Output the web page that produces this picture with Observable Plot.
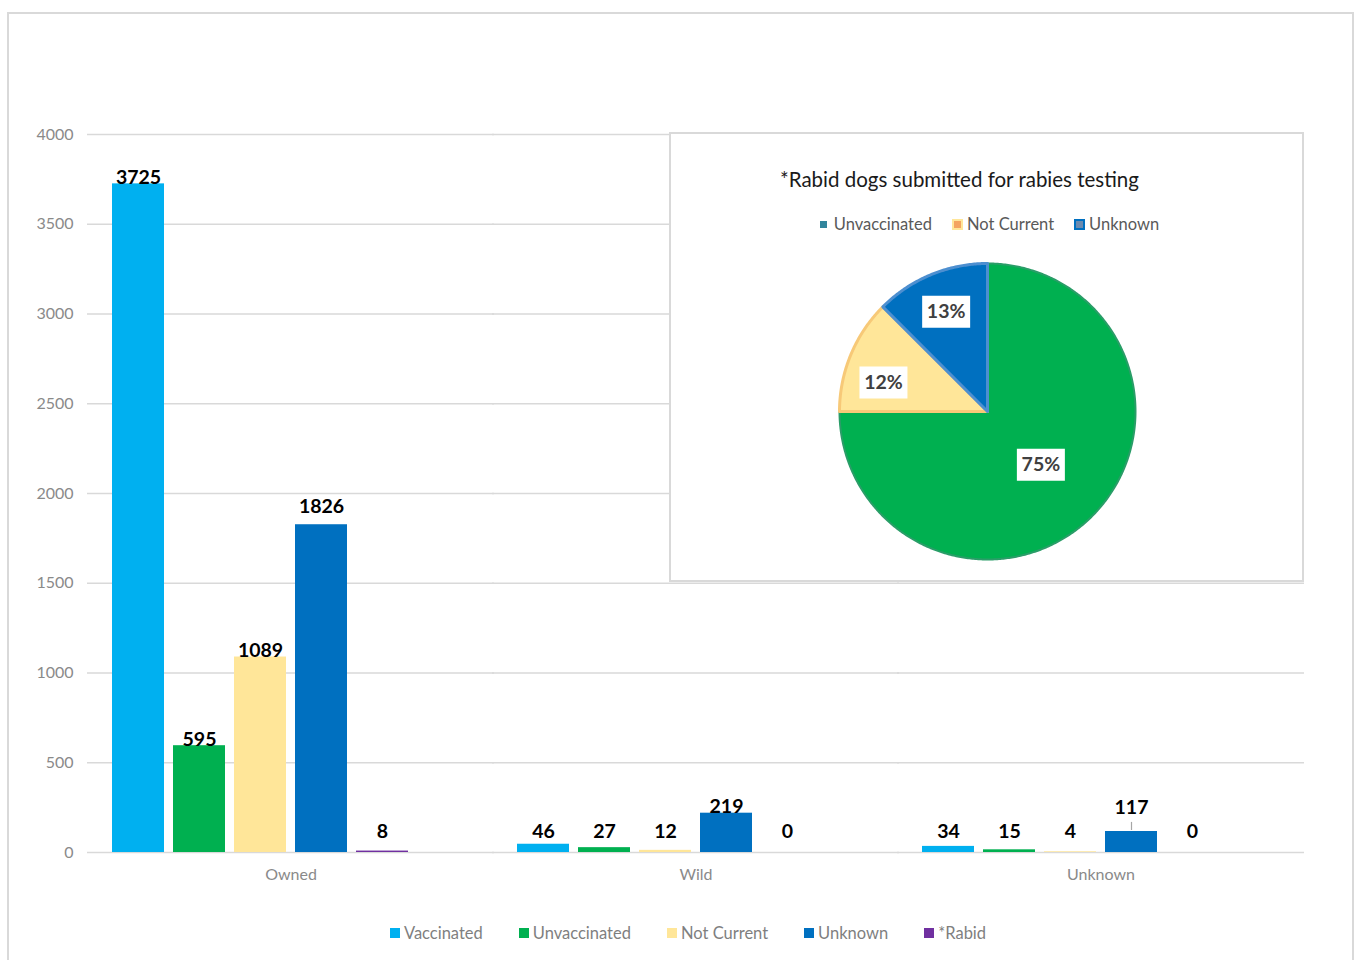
<!DOCTYPE html>
<html>
<head>
<meta charset="utf-8">
<script src="https://cdn.jsdelivr.net/npm/d3@7"></script>
<script src="https://cdn.jsdelivr.net/npm/@observablehq/plot@0.6"></script>
<style>
  html, body { margin: 0; padding: 0; background: #fff; }
  #wrap { position: relative; width: 1357px; height: 960px; overflow: hidden; font-family: Lato, "Noto Sans", sans-serif; }
  #frame { position: absolute; left: 7px; top: 12px; width: 1347px; height: 980px; border: 2px solid #d9d9d9; box-sizing: border-box; }
  #main { position: absolute; left: 0; top: 0; }
  #inset { position: absolute; left: 669px; top: 132px; width: 635px; height: 450px; border: 2px solid #d9d9d9; box-sizing: border-box; background: #fff; }
  #insetTitle { position: absolute; left: 0; width: 100%; top: 33px; text-align: center; font-size: 20.5px; color: #1a1a1a; padding-right: 54px; box-sizing: border-box; }
  #insetLegend { position: absolute; left: 0; width: 100%; top: 80px; display: flex; justify-content: center; gap: 20px; font-size: 16.5px; color: #595959; padding-left: 6px; box-sizing: border-box; }
  #insetLegend .it, #legend .it { display: flex; align-items: center; }
  #pie { position: absolute; left: 156px; top: 117px; }
  #legend { position: absolute; left: 0; top: 923px; width: 1376px; display: flex; justify-content: center; gap: 36px; font-size: 16.5px; color: #7f7f7f; }
  .sw { display: inline-block; width: 10px; height: 10px; margin-right: 4px; box-sizing: border-box; }
</style>
</head>
<body>
<div id="wrap">
  <div id="frame"></div>
  <div id="main"></div>
  <div id="inset">
    <div id="insetTitle"></div>
    <div id="insetLegend"></div>
    <div id="pie"></div>
  </div>
  <div id="legend"></div>
</div>
<script>
// ---- Bar chart data ----
const categories = ["Owned", "Wild", "Unknown"];
const series = ["Vaccinated", "Unvaccinated", "Not Current", "Unknown", "*Rabid"];
const seriesColors = ["#00b0f0", "#00b050", "#ffe699", "#0070c0", "#7030a0"];
const vaccinated = [3725, 46, 34];
const unvaccinated = [595, 27, 15];
const notCurrent = [1089, 12, 4];
const unknown = [1826, 219, 117];
const rabid = [8, 0, 0];
const yTicks = [0, 500, 1000, 1500, 2000, 2500, 3000, 3500, 4000];

// ---- Pie data ----
const pieTitle = "*Rabid dogs submitted for rabies testing";
const pieCategories = ["Unvaccinated", "Not Current", "Unknown"];
const pieCounts = [6, 1, 1];
const pieLabels = ["75%", "12%", "13%"];
const pieFill = ["#00b050", "#ffe699", "#0070c0"];
const pieStroke = ["#2a9d68", "#f7c978", "#4d8fd0"];
const pieLegendFill = ["#31859c", "#f4a460", "#6b8bb0"];
const pieLegendBorder = ["#31859c", "#ffe699", "#0070c0"];

const valuesBySeries = [vaccinated, unvaccinated, notCurrent, unknown, rabid];
const rows = categories.flatMap((c, i) =>
  series.map((s, j) => ({category: c, series: s, value: valuesBySeries[j][i]})));
const slots = [...series, "spacer"];
const labelFloor = 78;
// labels that were dragged upward in the original chart (category|series)
const liftedLabels = {"Owned|Unknown": -12, "Unknown|Unknown": -17};
const key = d => d.category + "|" + d.series;
const isLifted = d => key(d) in liftedLabels;

const labelOpts = {
  fx: "category", x: "series",
  y: d => Math.max(d.value, labelFloor),
  text: d => String(d.value),
  lineAnchor: "bottom",
  fill: "#000", fontWeight: "bold", fontSize: 19.5
};

const chart = Plot.plot({
  width: 1357,
  height: 900,
  marginLeft: 87,
  marginRight: 53,
  marginTop: 134,
  marginBottom: 48,
  style: {fontFamily: "Lato, 'Noto Sans', sans-serif", fontSize: "16px", color: "#8a8a8a", background: "transparent"},
  fx: {domain: categories, paddingInner: 0.09, paddingOuter: 0.045, label: null, axis: "bottom", tickSize: 0, tickPadding: 16},
  x: {domain: slots, paddingInner: 0.155, paddingOuter: 0.0775, axis: null},
  y: {domain: [0, 4000], ticks: yTicks, tickFormat: d => String(d), tickSize: 0, tickPadding: 33, label: null},
  color: {domain: series, range: seriesColors},
  marks: [
    Plot.ruleY(yTicks, {stroke: "#d9d9d9", strokeWidth: 1.5, insetLeft: -19, insetRight: -19}),
    Plot.barY(rows, {fx: "category", x: "series", y: "value", fill: "series"}),
    Plot.text(rows.filter(d => !isLifted(d)), labelOpts),
    ...rows.filter(isLifted).map(d =>
      Plot.text([d], {...labelOpts, dy: liftedLabels[key(d)]})),
    // leader line of the dragged label in the "Unknown" group
    Plot.ruleX(rows.filter(d => key(d) === "Unknown|Unknown"), {
      fx: "category", x: "series",
      y1: d => d.value, y2: d => d.value + 45,
      dy: -1, stroke: "#a6a6a6", strokeWidth: 1.2
    })
  ]
});
document.getElementById("main").appendChild(chart);

// ---- Main legend ----
const legend = document.getElementById("legend");
series.forEach((s, i) => {
  const it = document.createElement("div");
  it.className = "it";
  it.innerHTML = `<span class="sw" style="background:${seriesColors[i]}"></span>${s}`;
  legend.appendChild(it);
});

// ---- Inset title & legend ----
document.getElementById("insetTitle").textContent = pieTitle;
const il = document.getElementById("insetLegend");
pieCategories.forEach((c, i) => {
  const it = document.createElement("div");
  it.className = "it";
  const small = i === 0;
  it.innerHTML = `<span class="sw" style="width:${small ? 7 : 11}px;height:${small ? 7 : 11}px;margin-right:${small ? 7 : 4}px;background:${pieLegendFill[i]};border:${small ? 0 : 2}px solid ${pieLegendBorder[i]}"></span>${c}`;
  il.appendChild(it);
});

// ---- Pie (drawn with Plot line marks in unit coordinates) ----
const R = 0.925;
const arcs = d3.pie().sort(null)(pieCounts);
const slices = arcs.map((a, i) => {
  const pts = [{x: 0, y: 0}];
  const n = Math.max(8, Math.ceil((a.endAngle - a.startAngle) / 0.01));
  for (let k = 0; k <= n; k++) {
    const t = a.startAngle + (a.endAngle - a.startAngle) * k / n;
    pts.push({x: R * Math.sin(t), y: R * Math.cos(t)});
  }
  pts.push({x: 0, y: 0});
  const frac = pieCounts[i] / d3.sum(pieCounts);
  const mid = (a.startAngle + a.endAngle) / 2 + (i === 1 ? -0.12 : 0);
  const lr = R * (frac > 0.5 ? 0.51 : 0.73);
  return {pts, label: {x: lr * Math.sin(mid), y: lr * Math.cos(mid), text: pieLabels[i]}};
});
const labelBox = {draw(ctx) { ctx.rect(-24, -16, 48, 32); }};

const pie = Plot.plot({
  width: 320, height: 320,
  margin: 0,
  x: {domain: [-1, 1], axis: null},
  y: {domain: [-1, 1], axis: null},
  style: {fontFamily: "Lato, 'Noto Sans', sans-serif", background: "transparent"},
  marks: [
    ...slices.map((s, i) => Plot.line(s.pts, {x: "x", y: "y", fill: pieFill[i], stroke: pieStroke[i], strokeWidth: i === 0 ? 2 : 3, strokeLinejoin: "round", curve: "linear"})),
    Plot.dot(slices.map(s => s.label), {x: "x", y: "y", symbol: labelBox, fill: "#fff", stroke: "none", r: 10}),
    Plot.text(slices.map(s => s.label), {x: "x", y: "y", text: "text", fill: "#404040", fontSize: 19.5, fontWeight: "bold"})
  ]
});
document.getElementById("pie").appendChild(pie);
</script>
</body>
</html>
